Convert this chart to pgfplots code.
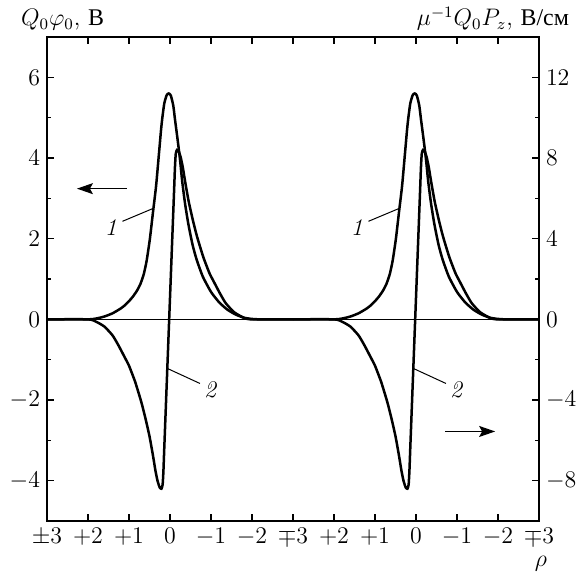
\documentclass[border=0pt]{standalone}
\usepackage{fontspec}
\usepackage{pgfplots}
\usepackage{pgfplotstable}
\pgfplotsset{compat=1.18}
\usetikzlibrary{arrows.meta}
\newfontfamily\cyr{Liberation Serif}

% curve 1: Q0 phi0 (V), one period, u = position within period
\pgfplotstableread{
u v
0 0
1.0 0
1.2 0.02
1.4 0.07
1.6 0.15
1.8 0.27
1.9 0.35
2.0 0.45
2.1 0.57
2.2 0.72
2.28 0.88
2.36 1.12
2.43 1.45
2.51 2.00
2.59 2.70
2.66 3.30
2.73 4.10
2.78 4.68
2.81 4.97
2.86 5.35
2.92 5.56
2.97 5.60
3.02 5.55
3.08 5.30
3.12 4.97
3.18 4.50
3.24 4.00
3.30 3.40
3.37 2.85
3.45 2.35
3.55 1.85
3.65 1.48
3.80 1.06
4.00 0.68
4.20 0.42
4.40 0.24
4.60 0.12
4.80 0.04
5.00 0.01
5.20 0
6 0
}\curveA

% curve 2: mu^-1 Q0 Pz (V/cm), one period
\pgfplotstableread{
u p
0 0
1.0 0
1.2 -0.12
1.4 -0.36
1.6 -0.8
1.74 -1.28
1.9 -1.9
2.0 -2.3
2.15 -3.1
2.3 -4.1
2.4 -4.9
2.5 -5.8
2.58 -6.7
2.65 -7.56
2.7 -8.04
2.75 -8.34
2.79 -8.4
2.82 -8.2
2.84 -7.5
2.86 -6.4
2.92 -3.2
2.98 0
3.04 3.2
3.10 6.4
3.12 7.5
3.14 8.2
3.17 8.4
3.21 8.34
3.26 8.04
3.31 7.56
3.38 6.7
3.46 5.8
3.56 4.9
3.66 4.1
3.81 3.1
3.96 2.3
4.06 1.9
4.22 1.28
4.36 0.8
4.56 0.36
4.76 0.12
4.96 0
6 0
}\curveB

\begin{document}
\begin{tikzpicture}[font=\fontsize{12}{14}\selectfont]
\pgfplotsset{
  common/.style={
    scale only axis, width=246bp, height=242bp,
    xmin=0, xmax=12,
    tick align=inside,
    major tick length=3.5bp, minor tick length=2.2bp,
    every tick/.style={black, line width=0.6bp},
    axis line style={line width=0.85bp},
    tick label style={font=\fontsize{12}{14}\selectfont},
  }
}
\begin{axis}[common,
  ymin=-5, ymax=7,
  xtick={0,...,12},
  xticklabels={$\pm3$,$+2$,$+1$,$0$,$-1$,$-2$,$\mp3$,$+2$,$+1$,$0$,$-1$,$-2$,$\mp3$},
  xtick pos=both, xticklabel pos=lower,
  ytick={-4,-2,...,6}, minor ytick={-3,-1,1,3,5},
  ytick pos=left,
]
\addplot[line width=0.5bp] coordinates {(0,0) (12,0)};
\addplot[smooth, tension=0.35, line width=1.25bp] table[x=u, y=v] {\curveA};
\addplot[smooth, tension=0.35, line width=1.25bp] table[x expr=\thisrow{u}+6, y=v] {\curveA};
% annotations
\draw[line width=0.5bp] (axis cs:1.84,2.43) -- (axis cs:2.59,2.75);
\node[font=\fontsize{12}{14}\selectfont\itshape] at (axis cs:1.56,2.28) {1};
\draw[line width=0.5bp] (axis cs:7.84,2.43) -- (axis cs:8.59,2.75);
\node[font=\fontsize{12}{14}\selectfont\itshape] at (axis cs:7.56,2.28) {1};
\draw[line width=0.5bp] (axis cs:2.94,-1.22) -- (axis cs:3.73,-1.59);
\node[font=\fontsize{12}{14}\selectfont\itshape] at (axis cs:3.98,-1.74) {2};
\draw[line width=0.5bp] (axis cs:8.94,-1.22) -- (axis cs:9.73,-1.59);
\node[font=\fontsize{12}{14}\selectfont\itshape] at (axis cs:9.98,-1.74) {2};
\draw[line width=0.6bp, -{Stealth[length=8bp, width=5.5bp, inset=1.5bp]}] (axis cs:1.94,3.24) -- (axis cs:0.73,3.24);
\draw[line width=0.6bp, -{Stealth[length=8bp, width=5.5bp, inset=1.5bp]}] (axis cs:9.71,-2.78) -- (axis cs:10.93,-2.78);
\coordinate (SW) at (rel axis cs:0,0);
\coordinate (NE) at (rel axis cs:1,1);
\coordinate (NW) at (rel axis cs:0,1);
\coordinate (SE) at (rel axis cs:1,0);
\end{axis}
\begin{axis}[common,
  ymin=-10, ymax=14,
  xtick=\empty,
  ytick={-8,-4,...,12}, minor ytick={-6,-2,2,6,10},
  ytick pos=right, yticklabel pos=right,
]
\addplot[smooth, tension=0.35, line width=1.25bp] table[x=u, y=p] {\curveB};
\addplot[smooth, tension=0.35, line width=1.25bp] table[x expr=\thisrow{u}+6, y=p] {\curveB};
\end{axis}
\node[anchor=base west] at ([shift={(-16.5bp,5.5bp)}]NW) {$Q_0\varphi_0$, {\cyr В}};
\node[anchor=base east] at ([shift={(18.5bp,5.5bp)}]NE) {$\mu^{-1}Q_0P_z$, {\cyr В/см}};
\node[anchor=base] at ([shift={(1bp,-22.5bp)}]SE) {$\rho$};
\pgfresetboundingbox
\path ([shift={(-23.5bp,-26.5bp)}]SW) rectangle ([shift={(23.5bp,18.5bp)}]NE);
\end{tikzpicture}
\end{document}
